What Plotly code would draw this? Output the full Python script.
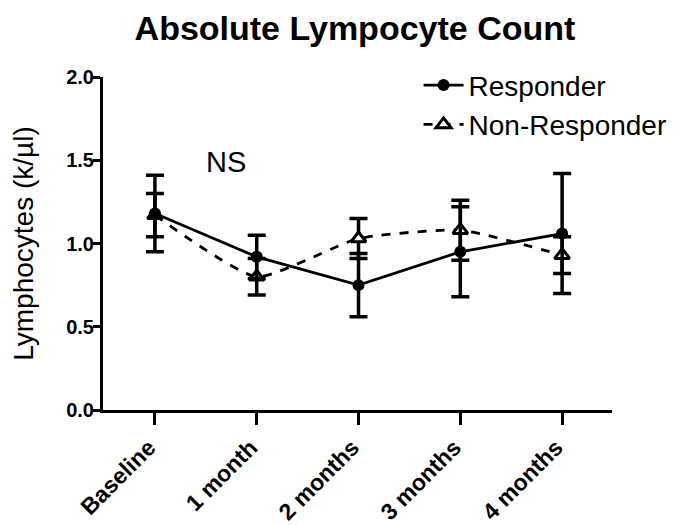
import plotly.graph_objects as go

categories = ["Baseline", "1 month", "2 months", "3 months", "4 months"]
responder = [1.18, 0.92, 0.75, 0.95, 1.06]
responder_err = [0.23, 0.13, 0.19, 0.27, 0.36]
nonresponder = [1.17, 0.80, 1.03, 1.08, 0.93]
nonresponder_err = [0.13, 0.11, 0.12, 0.18, 0.11]

xi = list(range(len(categories)))
font = "Arial, Liberation Sans, sans-serif"

fig = go.Figure()
fig.add_trace(go.Scatter(
    x=xi, y=nonresponder, name="Non-Responder", mode="lines+markers",
    line=dict(color="black", width=2.8, dash="dash", shape="spline", smoothing=0.5),
    marker=dict(symbol="triangle-up", size=13, color="white", line=dict(color="black", width=3)),
    error_y=dict(type="data", array=nonresponder_err, color="black", thickness=3.5, width=9),
    legendrank=2,
))
fig.add_trace(go.Scatter(
    x=xi, y=responder, name="Responder", mode="lines+markers",
    line=dict(color="black", width=2.8),
    marker=dict(symbol="circle", size=12, color="black"),
    error_y=dict(type="data", array=responder_err, color="black", thickness=3.5, width=9),
    legendrank=1,
))

fig.add_annotation(x=0.70, y=1.49, text="NS", showarrow=False,
                   font=dict(family=font, size=29, color="black"))

fig.update_layout(
    width=679, height=525,
    paper_bgcolor="white", plot_bgcolor="white",
    margin=dict(l=95, r=75, t=69, b=123),
    title=dict(text="<b>Absolute Lympocyte Count</b>", x=0.511, xanchor="center",
               y=0.962, yanchor="middle", font=dict(family=font, size=34, color="black")),
    font=dict(family=font, color="black"),
    legend=dict(x=0.62, y=1.05, xanchor="left", yanchor="top", bgcolor="rgba(0,0,0,0)",
                font=dict(family=font, size=28, color="black"), tracegroupgap=0,
                itemwidth=40),
    showlegend=True,
)
fig.update_xaxes(
    range=[-0.51, 4.49], tickmode="array", tickvals=xi,
    ticktext=["<b>%s</b>" % c for c in categories], tickangle=-45,
    showline=True, linecolor="black", linewidth=3, ticks="outside", ticklen=12,
    tickwidth=3, tickcolor="black", showgrid=False, zeroline=False,
    tickfont=dict(family=font, size=23, color="black"), automargin=False,
    ticklabelshift=-6,
)
fig.update_yaxes(
    range=[0, 2.0], tickvals=[0, 0.5, 1.0, 1.5, 2.0],
    ticktext=["<b>0.0</b>", "<b>0.5</b>", "<b>1.0</b>", "<b>1.5</b>", "<b>2.0</b>"],
    showline=True, linecolor="black", linewidth=3, ticks="outside", ticklen=7,
    tickwidth=3, tickcolor="black", showgrid=False, zeroline=False,
    tickfont=dict(family=font, size=20, color="black"), automargin=False,
    ticklabelstandoff=-5,
    title=dict(text="Lymphocytes (k/µl)", font=dict(family=font, size=28, color="black"), standoff=28),
)

fig.write_html("out.html")
